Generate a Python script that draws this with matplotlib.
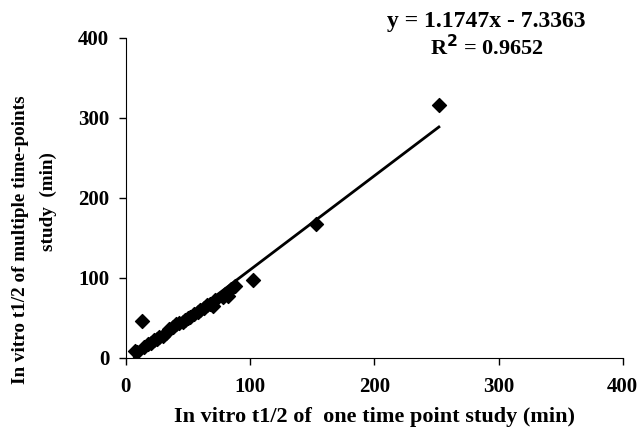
import numpy as np
import matplotlib.pyplot as plt

# one time point study t1/2 (min)
one_point = [7, 9, 13, 15, 18, 20, 23, 25, 27, 30, 32, 35, 38, 40, 43, 46, 48, 50,
             52, 55, 58, 60, 63, 65, 68, 70, 72, 78, 80, 82, 85, 88, 102, 153, 252]
# multiple time-points study t1/2 (min)
multi_point = [9, 7, 46, 14, 17, 19, 22, 24, 26, 28, 31, 36, 39, 42, 44, 45, 48, 50,
               51, 55, 58, 60, 62, 66, 68, 65, 72, 76, 80, 78, 86, 90, 97, 167, 316]

slope = 1.1747
intercept = -7.3363
r2 = 0.9652

plt.rcParams['font.family'] = ['Liberation Serif', 'DejaVu Serif']
plt.rcParams['font.weight'] = 'bold'
plt.rcParams['mathtext.fontset'] = 'custom'
plt.rcParams['mathtext.rm'] = 'Liberation Serif:bold'

fig = plt.figure(figsize=(6.42, 4.36), dpi=100)
ax = fig.add_axes([0.196, 0.179, 0.774, 0.734])

ax.scatter(one_point, multi_point, marker='D', s=50, color='black', zorder=3)

xs = np.array([min(one_point), max(one_point)])
ax.plot(xs, slope * xs + intercept, color='black', lw=2)

ax.set_xlim(0, 400)
ax.set_ylim(0, 400)
ax.set_xticks([0, 100, 200, 300, 400])
ax.set_yticks([0, 100, 200, 300, 400])
ax.spines['top'].set_visible(False)
ax.spines['right'].set_visible(False)
ax.tick_params(direction='out', length=5, labelsize=15, width=1)
ax.tick_params(axis='y', pad=7)
ax.tick_params(axis='x', pad=9)
for lab in ax.get_xticklabels() + ax.get_yticklabels():
    lab.set_fontweight('bold')

ax.set_xlabel('In vitro t1/2 of  one time point study (min)', fontsize=16,
              fontweight='bold', labelpad=7)

# y label: two lines, placed like the original
fig.text(21 / 642, 1 - 240 / 436, 'In vitro t1/2 of multiple time-points', rotation=90,
         ha='center', va='center', fontsize=13.8, fontweight='bold')
fig.text(48 / 642, 1 - 202 / 436, 'study  (min)', rotation=90,
         ha='center', va='center', fontsize=13.8, fontweight='bold')

fig.text(486 / 642, 1 - 21 / 436, f'y = {slope}x - {-intercept}', ha='center',
         va='center', fontsize=17, fontweight='bold')
fig.text(487 / 642, 1 - 48 / 436, 'R$^\\mathbf{2}$ = ' + str(r2), ha='center', va='center',
         fontsize=16, fontweight='bold')

fig.savefig('out.png', dpi=100)
